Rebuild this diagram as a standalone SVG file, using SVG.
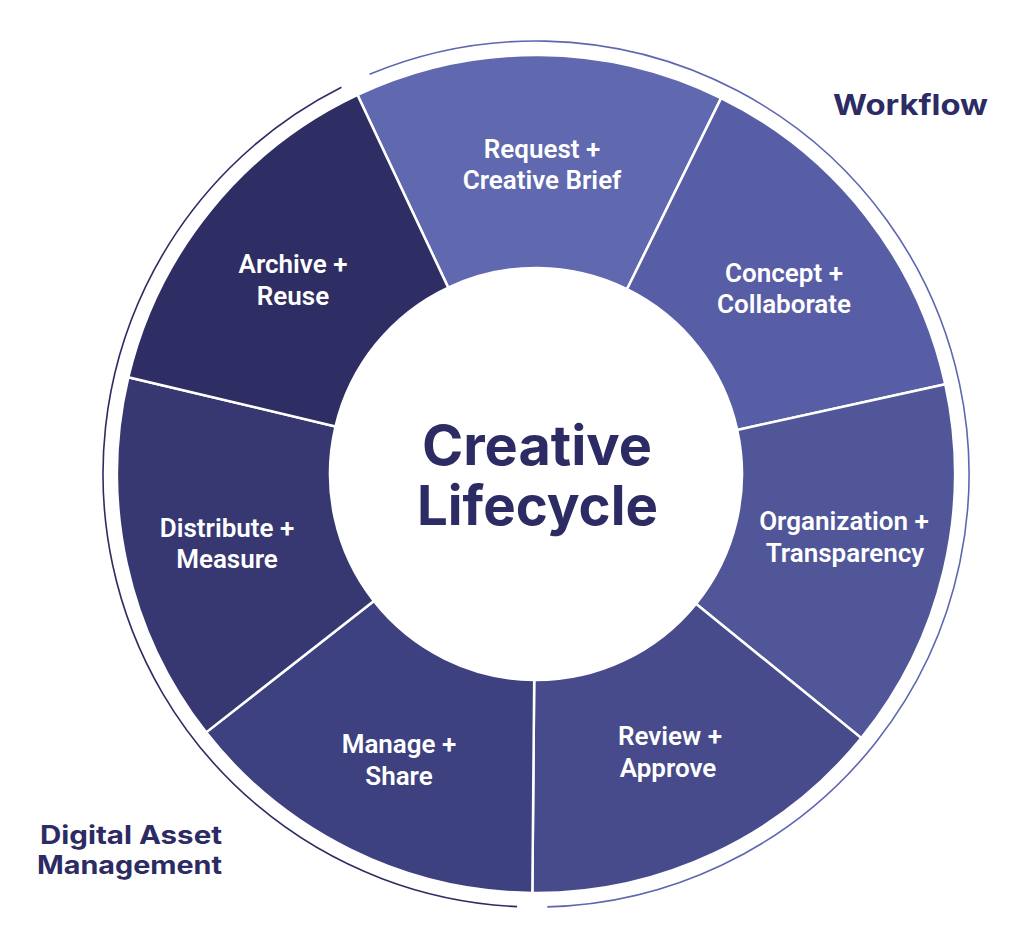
<svg xmlns="http://www.w3.org/2000/svg" width="1024" height="950" viewBox="0 0 1024 950">
  <style>
    .seg { stroke: #ffffff; stroke-width: 2.5; stroke-linejoin: miter; }
    .lbl { font-family: Roboto, "Liberation Sans", sans-serif; font-size: 26px; font-weight: 600; fill: #ffffff; text-anchor: middle; }
    .title { font-family: Inter, "Liberation Sans", sans-serif; font-size: 55px; font-weight: 700; fill: #2c2b63; }
    .side { font-family: Inter, "Liberation Sans", sans-serif; font-size: 28px; font-weight: 700; fill: #2c2b63; }
    .side2 { font-family: Inter, "Liberation Sans", sans-serif; font-size: 25px; font-weight: 700; fill: #2c2b63; }
    .ring { fill: none; stroke-width: 1.6; }
  </style>
  <rect x="0" y="0" width="1024" height="950" fill="#ffffff"/>

  <g id="outer-arcs">
    <path id="arc-workflow" class="ring" stroke="#5f66b0" d="M369.60,74.25 A433,433 0 1 1 547.34,906.85"/>
    <path id="arc-dam" class="ring" stroke="#2d2d64" d="M517.11,906.59 A433,433 0 0 1 341.44,87.17"/>
  </g>

  <g id="node-request">
    <path class="seg" fill="#6068b0" d="M448.24,287.63 L357.51,94.92 A419,419 0 0 1 721.09,98.09 L627.00,289.19 A206,206 0 0 0 448.24,287.63 Z"/>
    <text class="lbl" x="542" y="158">Request +</text>
    <text class="lbl" x="542" y="189">Creative Brief</text>
  </g>
  <g id="node-concept">
    <path class="seg" fill="#585ea6" d="M627.00,289.19 L721.09,98.09 A419,419 0 0 1 945.30,384.33 L737.23,429.92 A206,206 0 0 0 627.00,289.19 Z"/>
    <text class="lbl" x="784" y="282">Concept +</text>
    <text class="lbl" x="784" y="313">Collaborate</text>
  </g>
  <g id="node-organization">
    <path class="seg" fill="#505698" d="M737.23,429.92 L945.30,384.33 A419,419 0 0 1 861.30,738.08 L695.93,603.84 A206,206 0 0 0 737.23,429.92 Z"/>
    <text class="lbl" x="844" y="530">Organization +</text>
    <text class="lbl" x="845" y="562">Transparency</text>
  </g>
  <g id="node-review">
    <path class="seg" fill="#474b8b" d="M695.93,603.84 L861.30,738.08 A419,419 0 0 1 532.34,892.98 L534.20,679.99 A206,206 0 0 0 695.93,603.84 Z"/>
    <text class="lbl" x="670" y="745">Review +</text>
    <text class="lbl" x="668" y="777">Approve</text>
  </g>
  <g id="node-manage">
    <path class="seg" fill="#3d4180" d="M534.20,679.99 L532.34,892.98 A419,419 0 0 1 206.14,732.37 L373.83,601.03 A206,206 0 0 0 534.20,679.99 Z"/>
    <text class="lbl" x="399" y="753">Manage +</text>
    <text class="lbl" x="399" y="785">Share</text>
  </g>
  <g id="node-distribute">
    <path class="seg" fill="#373872" d="M373.83,601.03 L206.14,732.37 A419,419 0 0 1 128.33,377.20 L335.57,426.41 A206,206 0 0 0 373.83,601.03 Z"/>
    <text class="lbl" x="227" y="537">Distribute +</text>
    <text class="lbl" x="227" y="568">Measure</text>
  </g>
  <g id="node-archive">
    <path class="seg" fill="#2f2e64" d="M335.57,426.41 L128.33,377.20 A419,419 0 0 1 357.51,94.92 L448.24,287.63 A206,206 0 0 0 335.57,426.41 Z"/>
    <text class="lbl" x="293" y="273">Archive +</text>
    <text class="lbl" x="293" y="305">Reuse</text>
  </g>

  <g id="node-center">
    <circle cx="536" cy="474" r="205" fill="#ffffff"/>
    <text class="title" x="422" y="465" textLength="230" lengthAdjust="spacingAndGlyphs">Creative</text>
    <text class="title" x="417" y="525" textLength="241" lengthAdjust="spacingAndGlyphs">Lifecycle</text>
  </g>

  <g id="label-workflow">
    <text class="side" x="833" y="115" textLength="155" lengthAdjust="spacingAndGlyphs">Workflow</text>
  </g>
  <g id="label-dam">
    <text class="side2"><tspan x="40" y="844" textLength="182" lengthAdjust="spacingAndGlyphs">Digital Asset</tspan><tspan x="37" y="874" textLength="185" lengthAdjust="spacingAndGlyphs">Management</tspan></text>
  </g>

  <g id="connectors"></g>
</svg>
